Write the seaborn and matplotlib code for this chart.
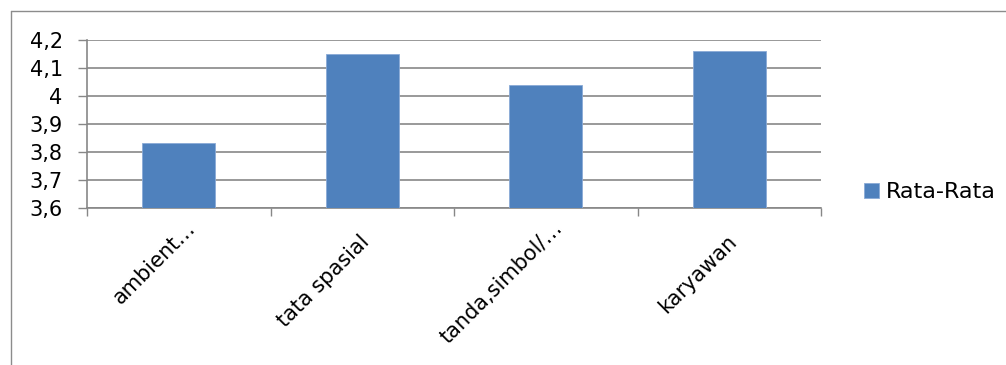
import matplotlib
matplotlib.use("Agg")
import matplotlib.pyplot as plt
import seaborn as sns
import numpy as np
from matplotlib.lines import Line2D
from matplotlib.ticker import FuncFormatter, FixedLocator
import matplotlib.transforms as mtransforms

categories = ["ambient…", "tata spasial", "tanda,simbol/…", "karyawan"]
values = [3.83, 4.15, 4.04, 4.16]
series_name = "Rata-Rata"
y_ticks = [3.6, 3.7, 3.8, 3.9, 4.0, 4.1, 4.2]

sns.set_theme(style="white")
plt.rcParams['font.family'] = ['DejaVu Sans']
plt.rcParams['text.color'] = 'black'

W, H = 1006, 365
fig = plt.figure(figsize=(W / 100, H / 100), dpi=100)
ax = fig.add_axes([87 / W, 1 - 207.7 / H, (821 - 87) / W, (207.7 - 40) / H])

sns.barplot(x=categories, y=values, color="#4F81BD", saturation=1, width=0.4,
            ax=ax, label=series_name, edgecolor="#8AAAD6", linewidth=0.6, zorder=3)

grid_c = "#878787"
ax.set_ylim(3.6, 4.2)
ax.set_xlim(-0.5, len(categories) - 0.5)
ax.set_yticks(y_ticks)
ax.yaxis.set_major_formatter(FuncFormatter(lambda v, p: (f"{v:.1f}".rstrip("0").rstrip(".")).replace(".", ",")))
ax.grid(axis="y", color=grid_c, linewidth=1.2, zorder=0)
ax.set_axisbelow(True)
for s in ["top", "right"]:
    ax.spines[s].set_visible(False)
for s in ["left", "bottom"]:
    ax.spines[s].set_color(grid_c)
    ax.spines[s].set_linewidth(1.2)

ax.tick_params(axis="y", direction="out", length=6.5, width=1.0, color=grid_c,
               labelsize=15, labelcolor="black", pad=11, left=True)
ax.set_xticks(np.arange(len(categories)))
ax.set_xticklabels([])
ax.tick_params(axis="x", which="major", length=0, bottom=False)
ax.xaxis.set_minor_locator(FixedLocator(np.arange(-0.5, len(categories), 1.0)))
ax.tick_params(axis="x", which="minor", direction="out", length=6, width=1.0, color=grid_c, bottom=True)
ax.set_xlabel("")
ax.set_ylabel("")

# rotated category labels (truncated labels sit a little higher, as in the source)
base = mtransforms.blended_transform_factory(ax.transData, ax.transAxes)
for i, c in enumerate(categories):
    if c.endswith("…"):
        dx, dy = 13.5, 17
    else:
        dx, dy = 4, 31
    tr = base + mtransforms.ScaledTranslation(dx / 100, -dy / 100, fig.dpi_scale_trans)
    ax.text(i, 0, c, rotation=45, ha="right", va="center", rotation_mode="anchor",
            transform=tr, fontsize=15, color="black")

# legend
leg = ax.legend(loc="center left", bbox_to_anchor=(864 / W, 1 - 192 / H), bbox_transform=fig.transFigure,
                frameon=False, fontsize=16, handlelength=0.68, handleheight=0.68,
                handletextpad=0.3, borderpad=0, borderaxespad=0, labelcolor="black")

# chart frame (left and top edges visible)
frame_c = "#8C8C8C"
fig.add_artist(Line2D([10.5 / W, 10.5 / W], [0, 1 - 10.5 / H], color=frame_c, linewidth=1.0, transform=fig.transFigure))
fig.add_artist(Line2D([10.5 / W, 1], [1 - 10.5 / H, 1 - 10.5 / H], color=frame_c, linewidth=1.0, transform=fig.transFigure))

fig.savefig("out.png", dpi=100)
